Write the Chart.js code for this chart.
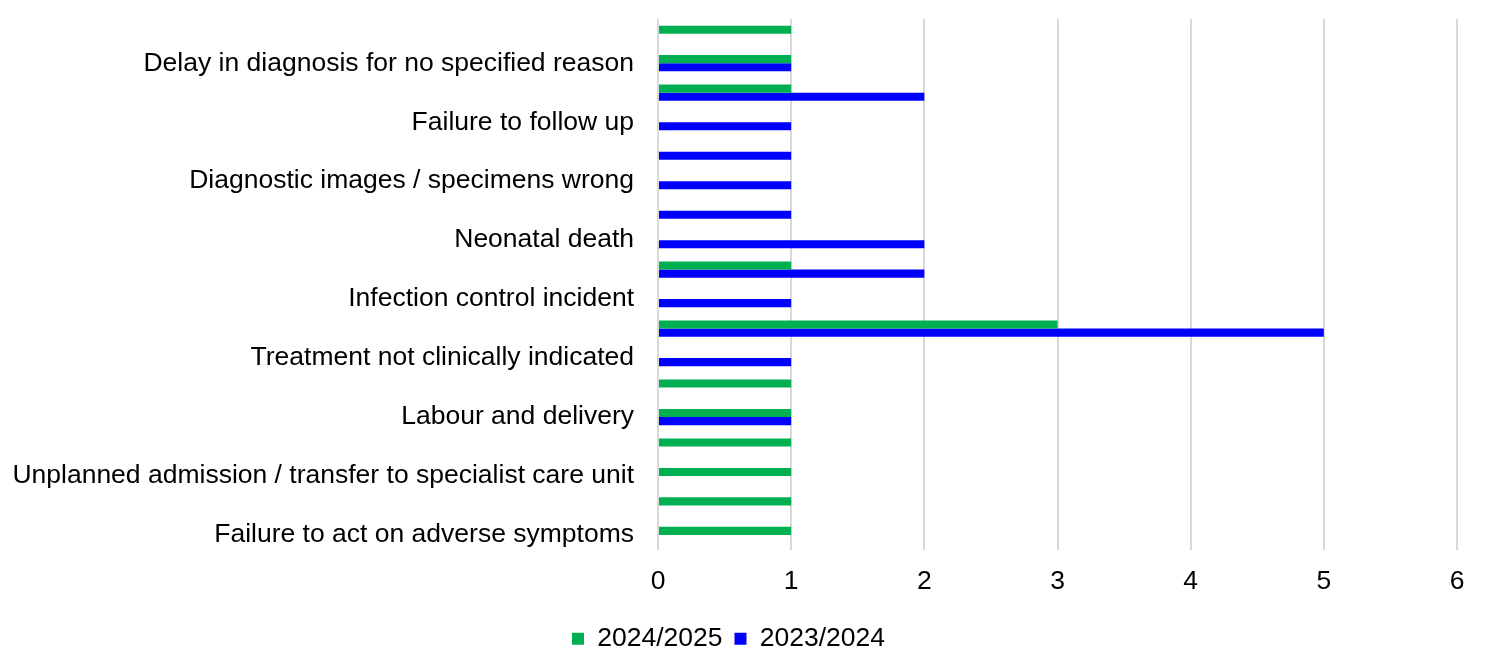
<!DOCTYPE html>
<html lang="en">
<head>
  <meta charset="UTF-8">
  <title>Incidents by category</title>
  <script src="https://cdn.jsdelivr.net/npm/chart.js@4.4.0/dist/chart.umd.min.js"></script>
  <style>
    html, body { margin: 0; padding: 0; background: #fff; }
    #wrap { width: 1495px; height: 666px; position: relative; }
  </style>
</head>
<body>
  <div id="wrap">
    <canvas id="chart"></canvas>
  </div>

  <script>
    // categories top to bottom; every other label is hidden in the original (unreadable -> '')
    const categories = [
      '',
      'Delay in diagnosis for no specified reason',
      '',
      'Failure to follow up',
      '',
      'Diagnostic images / specimens wrong',
      '',
      'Neonatal death',
      '',
      'Infection control incident',
      '',
      'Treatment not clinically indicated',
      '',
      'Labour and delivery',
      '',
      'Unplanned admission / transfer to specialist care unit',
      '',
      'Failure to act on adverse symptoms'
    ];
    const values2024 = [1, 1, 1, 0, 0, 0, 0, 0, 1, 0, 3, 0, 1, 1, 1, 1, 1, 1];
    const values2023 = [0, 1, 2, 1, 1, 1, 1, 2, 2, 1, 5, 1, 0, 1, 0, 0, 0, 0];
    const seriesNames = ['2024/2025', '2023/2024'];
    const xTicks = [0, 1, 2, 3, 4, 5, 6];

    const font = { family: '"Liberation Sans", Arial, sans-serif', size: 26.5 };

    const ctx = document.getElementById('chart').getContext('2d');
    const myChart = new Chart(ctx, {
      type: 'bar',
      data: {
        labels: categories,
        datasets: [{
          label: seriesNames[0],
          data: values2024,
          backgroundColor: '#00B050',
          borderWidth: 0,
          categoryPercentage: 0.55,
          barPercentage: 1.0
        }, {
          label: seriesNames[1],
          data: values2023,
          backgroundColor: '#0000FF',
          borderWidth: 0,
          categoryPercentage: 0.55,
          barPercentage: 1.0
        }]
      },
      options: {
        indexAxis: 'y',
        responsive: true,
        maintainAspectRatio: false,
        animation: false,
        layout: {
          padding: { top: 19, right: 38, bottom: 4, left: 0 }
        },
        plugins: {
          tooltip: { enabled: false },
          legend: {
            position: 'bottom',
            labels: {
              font: font,
              color: '#000',
              boxWidth: 12,
              boxHeight: 12,
              padding: 12
            }
          }
        },
        scales: {
          x: {
            min: xTicks[0],
            max: xTicks[xTicks.length - 1],
            afterBuildTicks: (axis) => { axis.ticks = xTicks.map(v => ({ value: v })); },
            grid: { color: '#d9d9d9', lineWidth: 2, drawTicks: false },
            border: { display: false },
            ticks: { font: font, color: '#000', padding: 16 }
          },
          y: {
            afterFit: (axis) => {
              axis.width = 658;
              axis.paddingTop = 0;
              axis.paddingBottom = 0;
            },
            grid: { display: false, drawTicks: false },
            border: { display: false },
            ticks: {
              font: font,
              color: '#000',
              autoSkip: false,
              padding: 24
            }
          }
        }
      }
    });
  </script>
</body>
</html>
